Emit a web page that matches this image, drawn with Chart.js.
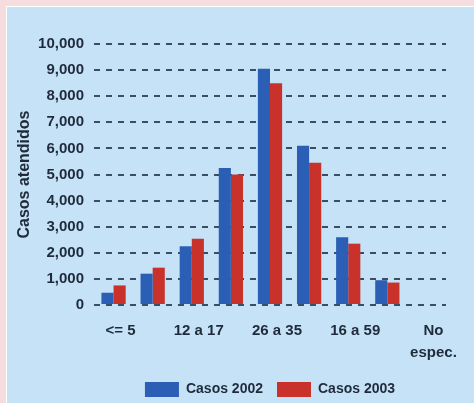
<!DOCTYPE html>
<html>
<head>
<meta charset="utf-8">
<script src="https://cdn.jsdelivr.net/npm/chart.js@4.4.1/dist/chart.umd.min.js"></script>
<style>
  html, body { margin: 0; padding: 0; }
  body { width: 474px; height: 403px; background: #f4dcdf; position: relative; overflow: hidden; }
  #panel {
    position: absolute; left: 6px; top: 6px; width: 468px; height: 397px;
    background: #c6e2f7; border-top: 1px solid #ffffff; border-left: 1px solid #ffffff;
  }
  #wrap { position: absolute; left: 0; top: 0; width: 467px; height: 396px; }
</style>
</head>
<body>
<div id="panel"><div id="wrap"><canvas id="chartCasos"></canvas></div></div>
<script>
const grupos = ['<= 5', '', '12 a 17', '', '26 a 35', '', '16 a 59', '', ['No', 'espec.']];
const casos2002 = [470, 1200, 2250, 5250, 9050, 6100, 2600, 950, 0];
const casos2003 = [750, 1430, 2540, 5000, 8500, 5450, 2350, 860, 0];
const marcasY = [0, 1000, 2000, 3000, 4000, 5000, 6000, 7000, 8000, 9000, 10000];

const tinta = '#1f2b3b';
const fuente = '"Liberation Sans", Arial, sans-serif';

var lienzo = document.getElementById('chartCasos');
var chartCasos = new Chart(lienzo, {
  type: 'bar',
  data: {
    labels: grupos,
    datasets: [
      { label: 'Casos 2002', data: casos2002, backgroundColor: '#2b5fb5' },
      { label: 'Casos 2003', data: casos2003, backgroundColor: '#c8322b' }
    ]
  },
  options: {
    responsive: true,
    maintainAspectRatio: false,
    animation: false,
    layout: { padding: { top: 37, right: 28, bottom: -4, left: 0 } },
    datasets: { bar: { categoryPercentage: 0.62, barPercentage: 1.0 } },
    scales: {
      x: {
        grid: { display: false, drawTicks: false },
        border: { display: false },
        ticks: {
          autoSkip: false, maxRotation: 0, padding: 15, labelOffset: 7,
          color: tinta, font: { family: fuente, size: 15, weight: 'bold', lineHeight: 1.45 }
        },
        afterFit: function (s) { s.height = 63; }
      },
      y: {
        min: 0, max: 10000,
        afterBuildTicks: function (s) { s.ticks = marcasY.map(v => ({ value: v })); },
        grid: { color: 'rgba(35,50,70,0.85)', lineWidth: 2, drawTicks: false },
        border: { display: false, dash: [6, 6] },
        ticks: {
          padding: 10, color: tinta,
          font: { family: fuente, size: 15, weight: 'bold' },
          callback: function (v) { return v.toLocaleString('en-US'); }
        },
        title: {
          display: true, text: 'Casos atendidos', color: tinta,
          font: { family: fuente, size: 16, weight: 'bold' },
          padding: { top: 8, bottom: 0 }
        },
        afterFit: function (s) { s.width = 87; }
      }
    },
    plugins: {
      legend: {
        position: 'bottom',
        fullSize: false,
        labels: {
          boxWidth: 34, boxHeight: 15, padding: 14, color: tinta,
          font: { family: fuente, size: 14, weight: 'bold' }
        }
      },
      tooltip: { enabled: false }
    }
  }
});
</script>
</body>
</html>
